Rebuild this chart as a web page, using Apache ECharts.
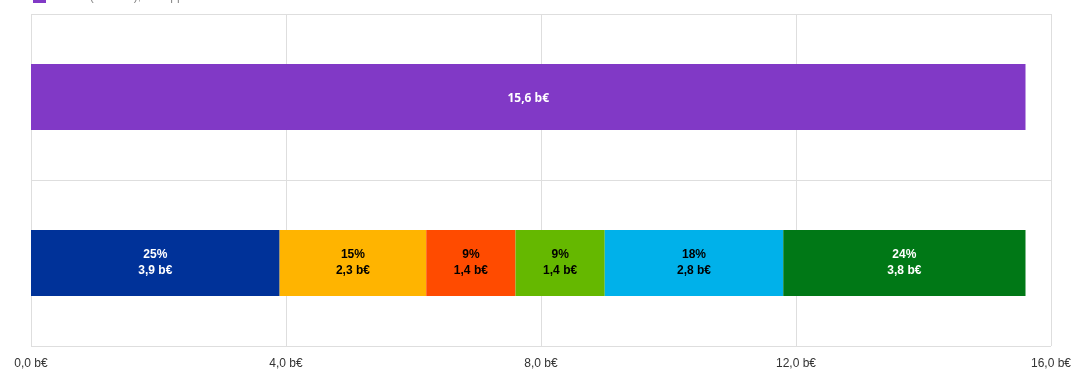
<!DOCTYPE html>
<html>
<head>
<meta charset="utf-8">
<script src="https://cdn.jsdelivr.net/npm/echarts@6/dist/echarts.min.js"></script>
<style>
  html, body { margin: 0; padding: 0; background: #fff; }
  #chart { width: 1080px; height: 371px; }
</style>
</head>
<body>
<div id="chart"></div>
<script>
// rows of the chart, top to bottom
var categories = ['Total', 'Répartition'];
var totalName = 'Total (résumé), total ppe';
var totalValue = 15.6;

// breakdown segments, left to right
var segmentValues = [3.9, 2.3, 1.4, 1.4, 2.8, 3.8];
var segmentShares = [25, 15, 9, 9, 18, 24];
var segmentColors = ['#003299', '#FFB400', '#FF4B00', '#65B800', '#00B1EA', '#007816'];
var segmentLabelColors = ['#fff', '#000', '#000', '#000', '#000', '#fff'];

var xTicks = [0, 4, 8, 12, 16];

function fmt(v) {
    return v.toFixed(1).replace('.', ',');
}

var chart = echarts.init(document.getElementById('chart'));

var series = [
    {
        name: totalName,
        type: 'bar',
        stack: 'all',
        barWidth: 66,
        data: [totalValue, '-'],
        itemStyle: { color: '#8139C6' },
        label: {
            show: true,
            position: 'inside',
            offset: [0, 2],
            color: '#fff',
            fontFamily: 'Open Sans',
            fontWeight: 'bold',
            fontSize: 12,
            formatter: function (p) { return fmt(p.value) + ' b€'; }
        }
    }
];

segmentValues.forEach(function (v, i) {
    series.push({
        name: 'seg' + i,
        type: 'bar',
        stack: 'all',
        barWidth: 66,
        data: ['-', v],
        itemStyle: { color: segmentColors[i] },
        label: {
            show: true,
            position: 'inside',
            color: segmentLabelColors[i],
            fontFamily: 'Liberation Sans Narrow, Arial Narrow, sans-serif',
            fontWeight: 'bold',
            fontSize: 12,
            lineHeight: 16,
            formatter: function (p) {
                return segmentShares[i] + '%\n' + fmt(p.value) + ' b€';
            }
        }
    });
});

var option = {
    animation: false,
    legend: {
        data: [totalName],
        left: 28,
        top: -15,
        itemWidth: 13,
        itemHeight: 13,
        itemGap: 10,
        textStyle: { color: '#888', fontSize: 12, padding: [0, 0, 0, 10] },
        icon: 'rect'
    },
    grid: {
        left: 31,
        right: 29,
        top: 14,
        bottom: 25,
        containLabel: false
    },
    xAxis: {
        type: 'value',
        min: xTicks[0],
        max: xTicks[xTicks.length - 1],
        interval: 4,
        axisLine: { show: false },
        axisTick: { show: false },
        splitLine: { lineStyle: { color: '#dedede', width: 1 } },
        axisLabel: {
            color: '#333',
            fontFamily: 'Liberation Sans Narrow, Arial Narrow, sans-serif',
            fontSize: 12,
            margin: 12,
            formatter: function (v) { return fmt(v) + ' b€'; }
        }
    },
    yAxis: {
        type: 'category',
        data: categories,
        inverse: true,
        axisLine: { show: false },
        axisTick: { show: false },
        axisLabel: { show: false },
        splitLine: { show: true, lineStyle: { color: '#dedede', width: 1 } }
    },
    series: series
};

chart.setOption(option);
</script>
</body>
</html>
